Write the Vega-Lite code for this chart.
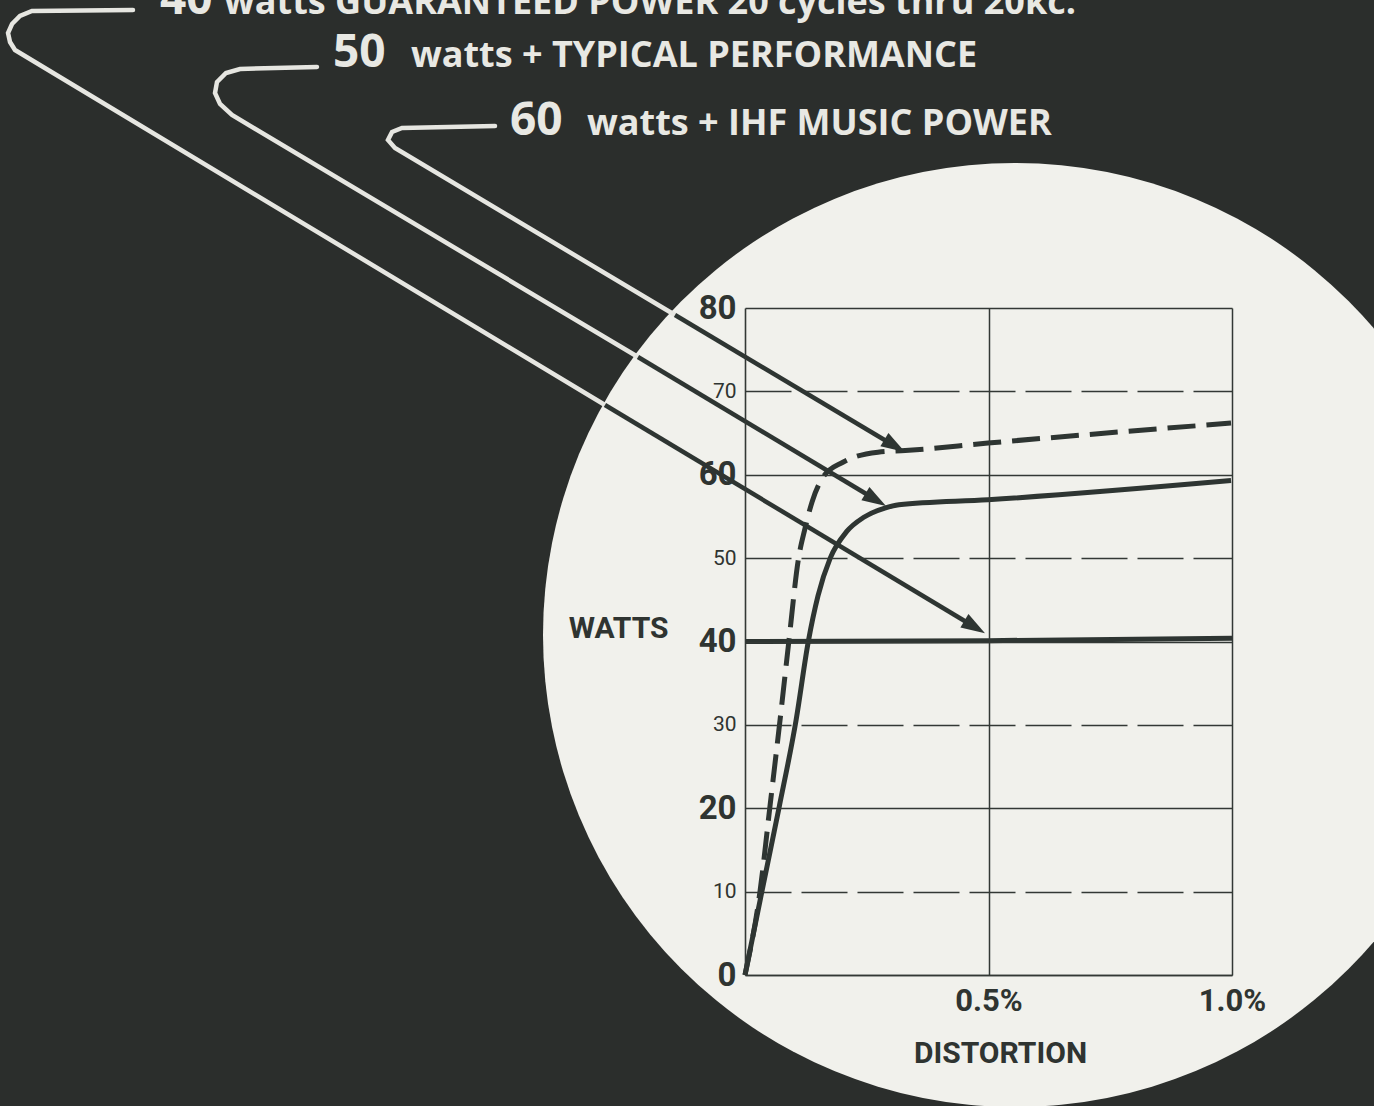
{
  "$schema": "https://vega.github.io/schema/vega-lite/v6.json",
  "width": 487,
  "height": 667,
  "autosize": {"type": "none"},
  "padding": {"left": 745, "top": 308, "right": 142, "bottom": 131},
  "background": "#2b2e2c",
  "config": {
    "view": {"stroke": null},
    "font": "Roboto"
  },
  "datasets": {
    "disc": [{"name": "lens"}],
    "curves": [
      {"s": "typical", "x": 0, "y": 0},
      {"s": "typical", "x": 0.035, "y": 10.1},
      {"s": "typical", "x": 0.07, "y": 20.1},
      {"s": "typical", "x": 0.105, "y": 30.6},
      {"s": "typical", "x": 0.13, "y": 40.0},
      {"s": "typical", "x": 0.15, "y": 45.5},
      {"s": "typical", "x": 0.175, "y": 50.0},
      {"s": "typical", "x": 0.209, "y": 53.2},
      {"s": "typical", "x": 0.244, "y": 54.9},
      {"s": "typical", "x": 0.287, "y": 56.0},
      {"s": "typical", "x": 0.316, "y": 56.4},
      {"s": "typical", "x": 0.499, "y": 57.0},
      {"s": "typical", "x": 0.998, "y": 59.3},
      {"s": "music", "x": 0, "y": 0},
      {"s": "music", "x": 0.031, "y": 10.1},
      {"s": "music", "x": 0.051, "y": 20.1},
      {"s": "music", "x": 0.072, "y": 30.6},
      {"s": "music", "x": 0.09, "y": 40.0},
      {"s": "music", "x": 0.11, "y": 50.0},
      {"s": "music", "x": 0.123, "y": 53.5},
      {"s": "music", "x": 0.138, "y": 56.8},
      {"s": "music", "x": 0.16, "y": 59.7},
      {"s": "music", "x": 0.201, "y": 61.5},
      {"s": "music", "x": 0.273, "y": 62.7},
      {"s": "music", "x": 0.329, "y": 62.9},
      {"s": "music", "x": 0.499, "y": 63.8},
      {"s": "music", "x": 0.998, "y": 66.2},
      {"s": "guaranteed", "x": 0, "y": 40.0},
      {"s": "guaranteed", "x": 0.5, "y": 40.1},
      {"s": "guaranteed", "x": 1.0, "y": 40.4}
    ],
    "arrows": [
      {"a": 1, "part": "white", "i": 0, "x": -1.2567, "y": 115.74},
      {"a": 1, "part": "white", "i": 1, "x": -1.4641, "y": 115.62},
      {"a": 1, "part": "white", "i": 2, "x": -1.4887, "y": 115.02},
      {"a": 1, "part": "white", "i": 3, "x": -1.5051, "y": 114.06},
      {"a": 1, "part": "white", "i": 4, "x": -1.5133, "y": 112.98},
      {"a": 1, "part": "white", "i": 5, "x": -1.5092, "y": 111.9},
      {"a": 1, "part": "white", "i": 6, "x": -1.499, "y": 110.94},
      {"a": 1, "part": "white", "i": 7, "x": -0.2875, "y": 68.37},
      {"a": 1, "part": "dark", "i": 0, "x": -0.2875, "y": 68.37},
      {"a": 1, "part": "dark", "i": 1, "x": 0.4784, "y": 41.5},
      {"a": 2, "part": "white", "i": 0, "x": -0.8789, "y": 108.91},
      {"a": 2, "part": "white", "i": 1, "x": -1.037, "y": 108.67},
      {"a": 2, "part": "white", "i": 2, "x": -1.0657, "y": 108.19},
      {"a": 2, "part": "white", "i": 3, "x": -1.0842, "y": 107.11},
      {"a": 2, "part": "white", "i": 4, "x": -1.0883, "y": 105.79},
      {"a": 2, "part": "white", "i": 5, "x": -1.078, "y": 104.47},
      {"a": 2, "part": "white", "i": 6, "x": -1.0534, "y": 103.15},
      {"a": 2, "part": "white", "i": 7, "x": -0.2197, "y": 74.12},
      {"a": 2, "part": "dark", "i": 0, "x": -0.2197, "y": 74.12},
      {"a": 2, "part": "dark", "i": 1, "x": 0.2731, "y": 56.85},
      {"a": 3, "part": "white", "i": 0, "x": -0.5133, "y": 101.83},
      {"a": 3, "part": "white", "i": 1, "x": -0.7043, "y": 101.59},
      {"a": 3, "part": "white", "i": 2, "x": -0.7248, "y": 101.11},
      {"a": 3, "part": "white", "i": 3, "x": -0.7331, "y": 100.15},
      {"a": 3, "part": "white", "i": 4, "x": -0.7187, "y": 99.19},
      {"a": 3, "part": "white", "i": 5, "x": -0.1437, "y": 79.16},
      {"a": 3, "part": "dark", "i": 0, "x": -0.1437, "y": 79.16},
      {"a": 3, "part": "dark", "i": 1, "x": 0.3142, "y": 63.21}
    ],
    "heads": [
      {"a": 1, "x": 0.4928, "y": 41.0},
      {"a": 2, "x": 0.2895, "y": 56.25},
      {"a": 3, "x": 0.3285, "y": 62.73}
    ],
    "labels": [
      {"kind": "num", "x": -1.2012, "y": 115.3, "text": "40"},
      {"kind": "rest", "x": -1.0698, "y": 115.3, "text": "watts GUARANTEED POWER 20 cycles thru 20kc."},
      {"kind": "num", "x": -0.846, "y": 108.9, "text": "50"},
      {"kind": "rest", "x": -0.686, "y": 108.9, "text": "watts + TYPICAL PERFORMANCE"},
      {"kind": "num", "x": -0.4825, "y": 100.75, "text": "60"},
      {"kind": "rest", "x": -0.3244, "y": 100.75, "text": "watts + IHF MUSIC POWER"}
    ]
  },
  "encoding": {
    "x": {
      "type": "quantitative",
      "scale": {"domain": [0, 1], "nice": false, "zero": false},
      "axis": {
        "zindex": 2,
        "title": "DISTORTION",
        "values": [0.5, 1.0],
        "labelExpr": "format(datum.value, '.1f') + '%'",
        "labelFontSize": 31,
        "labelFontWeight": "bold",
        "labelColor": "#2f3431",
        "labelPadding": 11,
        "labelDx": 11,
        "labelFlush": false,
        "labelOverlap": false,
        "ticks": false,
        "domainColor": "#333835",
        "domainWidth": 1.6,
        "grid": true,
        "gridColor": "#333835",
        "gridWidth": 1.5,
        "titleFontSize": 30,
        "titleFontWeight": "bold",
        "titleColor": "#2f3431",
        "titleX": 255,
        "titleY": 87,
        "titleBaseline": "alphabetic",
        "titleAlign": "center"
      }
    },
    "y": {
      "type": "quantitative",
      "scale": {"domain": [0, 80], "nice": false, "zero": false},
      "axis": {
        "zindex": 2,
        "title": "WATTS",
        "values": [0, 10, 20, 30, 40, 50, 60, 70, 80],
        "ticks": false,
        "labelPadding": 9,
        "labelColor": "#2f3431",
        "labelFontSize": {"condition": {"test": "datum.value % 20 === 0", "value": 33}, "value": 21},
        "labelFontWeight": {"condition": {"test": "datum.value % 20 === 0", "value": "bold"}, "value": "normal"},
        "domainColor": "#333835",
        "domainWidth": 1.6,
        "grid": true,
        "gridColor": "#333835",
        "gridWidth": 1.4,
        "gridDash": {"condition": {"test": "datum.value % 20 !== 0", "value": [46, 10]}, "value": []},
        "titleAngle": 0,
        "titleAlign": "right",
        "titleBaseline": "middle",
        "titleX": -77,
        "titleY": 320,
        "titleFontSize": 30,
        "titleFontWeight": "bold",
        "titleColor": "#2f3431"
      }
    }
  },
  "layer": [
    {
      "data": {"name": "disc"},
      "mark": {"type": "point", "shape": "circle", "filled": true, "size": 891136, "color": "#f1f1ec", "opacity": 1, "strokeWidth": 0, "zindex": 0},
      "encoding": {
        "x": {"datum": 0.5544, "type": "quantitative"},
        "y": {"datum": 40.78, "type": "quantitative"}
      }
    },
    {
      "data": {"name": "curves"},
      "transform": [{"filter": "datum.s === 'guaranteed'"}],
      "mark": {"type": "line", "color": "#2e3532", "strokeWidth": 5, "zindex": 3},
      "encoding": {"x": {"field": "x"}, "y": {"field": "y"}}
    },
    {
      "data": {"name": "curves"},
      "transform": [{"filter": "datum.s === 'typical'"}],
      "mark": {"type": "line", "color": "#2e3532", "strokeWidth": 5, "interpolate": "monotone", "zindex": 3},
      "encoding": {"x": {"field": "x"}, "y": {"field": "y"}}
    },
    {
      "data": {"name": "curves"},
      "transform": [{"filter": "datum.s === 'music'"}],
      "mark": {"type": "line", "color": "#2e3532", "strokeWidth": 5, "interpolate": "monotone", "strokeDash": [28, 11], "zindex": 3},
      "encoding": {"x": {"field": "x"}, "y": {"field": "y"}}
    },
    {
      "data": {"name": "arrows"},
      "transform": [{"filter": "datum.part === 'white'"}],
      "mark": {"type": "line", "color": "#e6e6e1", "strokeWidth": 4.5, "interpolate": "linear", "strokeCap": "round", "zindex": 3},
      "encoding": {
        "x": {"field": "x"},
        "y": {"field": "y"},
        "detail": {"field": "a", "type": "nominal"},
        "order": {"field": "i", "type": "quantitative"}
      }
    },
    {
      "data": {"name": "arrows"},
      "transform": [{"filter": "datum.part === 'dark'"}],
      "mark": {"type": "line", "color": "#2e3532", "strokeWidth": 4.5, "zindex": 3},
      "encoding": {
        "x": {"field": "x"},
        "y": {"field": "y"},
        "detail": {"field": "a", "type": "nominal"},
        "order": {"field": "i", "type": "quantitative"}
      }
    },
    {
      "data": {"name": "heads"},
      "mark": {"type": "point", "shape": "M-2,-0.65L0,0L-2,0.65Z", "size": 576, "angle": 31, "filled": true, "color": "#2e3532", "opacity": 1, "strokeWidth": 0, "zindex": 3},
      "encoding": {"x": {"field": "x"}, "y": {"field": "y"}}
    },
    {
      "data": {"name": "labels"},
      "transform": [{"filter": "datum.kind === 'num'"}],
      "mark": {"type": "text", "align": "left", "baseline": "alphabetic", "font": "Open Sans", "fontWeight": "bold", "fontSize": 46, "color": "#e8e8e3", "zindex": 3},
      "encoding": {"x": {"field": "x"}, "y": {"field": "y"}, "text": {"field": "text"}}
    },
    {
      "data": {"name": "labels"},
      "transform": [{"filter": "datum.kind === 'rest'"}],
      "mark": {"type": "text", "align": "left", "baseline": "alphabetic", "font": "Open Sans", "fontWeight": "bold", "fontSize": 36, "color": "#e8e8e3", "zindex": 3},
      "encoding": {"x": {"field": "x"}, "y": {"field": "y"}, "text": {"field": "text"}}
    }
  ]
}
